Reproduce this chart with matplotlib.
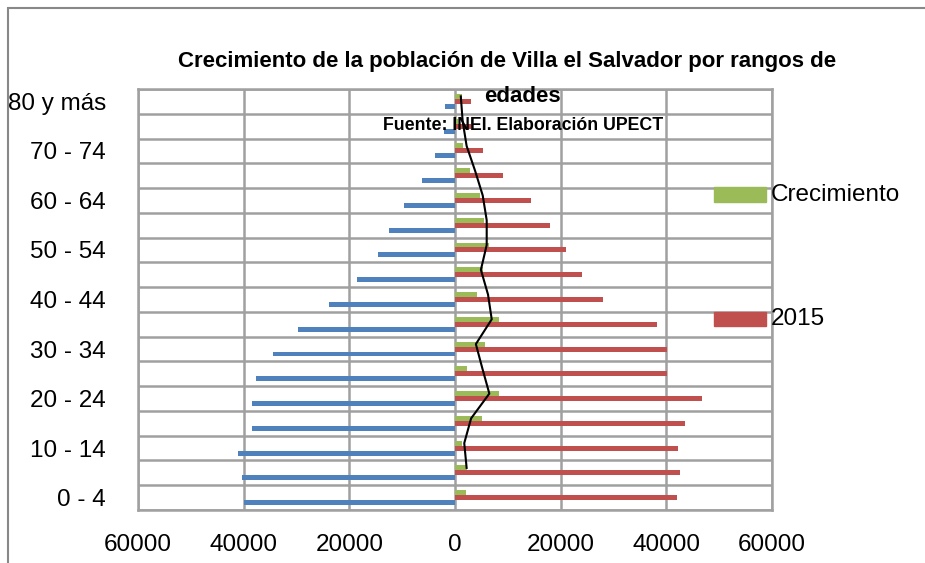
import numpy as np
import matplotlib
matplotlib.use("Agg")
from matplotlib import pyplot as plt
from matplotlib.patches import Rectangle

# age groups, bottom to top
edades = ["0 - 4", "5 - 9", "10 - 14", "15 - 19", "20 - 24", "25 - 29", "30 - 34",
          "35 - 39", "40 - 44", "45 - 49", "50 - 54", "55 - 59", "60 - 64",
          "65 - 69", "70 - 74", "75 - 79", "80 y más"]

# blue series drawn to the left (negative)
pob_izq = [-39900, -40300, -41100, -38500, -38400, -37700, -34500, -29700, -23900,
           -18500, -14500, -12500, -9650, -6300, -3700, -2100, -1800]
pob_2015 = [42100, 42600, 42300, 43500, 46700, 40100, 40200, 38200, 28100,
            24000, 21000, 18000, 14300, 9150, 5350, 3000, 3000]
crecimiento = [2100, 2200, 1250, 5050, 8300, 2200, 5700, 8300, 4200,
               5350, 6450, 5550, 4700, 2850, 1600, 600, 1250]

# black line (rows 5-9 .. 80 y más)
linea_x = [2200, 1750, 3050, 6500, 5200, 3950, 6950, 6250, 4900,
           6000, 6000, 5250, 3800, 2200, 1450, 1100]

azul = "#4F81BD"
rojo = "#C0504D"
verde = "#9BBB59"
gris = "#A0A0A0"
fuente = "Liberation Sans"

fig = plt.figure(figsize=(9.25, 5.63), dpi=100)
fig.patches.append(Rectangle((8/925, -0.1), 1.2, 1.1 - 8/563,
                             transform=fig.transFigure, fill=False,
                             edgecolor="#888888", lw=1.5))
ax = fig.add_axes([138/925, 1-510/563, (772-138)/925, (510-89)/563])

y = np.arange(len(edades))
h = 0.2
ax.barh(y - h, pob_izq, height=h, color=azul, zorder=3)
ax.barh(y, pob_2015, height=h, color=rojo, zorder=3)
ax.barh(y + h, crecimiento, height=h, color=verde, zorder=3)
ax.plot(linea_x, y[1:] + h, color="black", lw=1.5, zorder=4)

ax.set_xlim(-60000, 60000)
ax.set_ylim(-0.5, len(edades) - 0.5)
xt = np.arange(-60000, 60001, 20000)
ax.set_xticks(xt)
ax.set_xticklabels([str(abs(v)) for v in xt], fontsize=17.5, family=fuente)
ax.set_yticks(y[::2])
ax.set_yticklabels(edades[::2], fontsize=17.5, family=fuente)
ax.set_yticks(np.arange(-0.5, len(edades)), minor=True)
ax.tick_params(axis="x", length=0, pad=17)
ax.tick_params(axis="y", length=0, pad=23)
ax.tick_params(axis="y", which="minor", length=0)
ax.grid(axis="x", which="major", color=gris, lw=1.8, zorder=0)
ax.grid(axis="y", which="minor", color=gris, lw=1.8, zorder=0)
for s in ax.spines.values():
    s.set_color(gris)
    s.set_linewidth(1.8)

fig.text(507/925, 1-61/563, "Crecimiento de la población de Villa el Salvador por rangos de",
         ha="center", va="center", fontsize=16, fontweight="bold", family=fuente)
fig.text(522/925, 1-97/563, "edades", ha="center", va="center", fontsize=16,
         fontweight="bold", family=fuente, zorder=10)
fig.text(523/925, 1-125/563, "Fuente: INEI. Elaboración UPECT", ha="center", va="center",
         fontsize=12.8, fontweight="bold", family=fuente, zorder=10)

# legend entries
fig.patches.append(Rectangle((714/925, 1-202/563), 52/925, 15/563, color=verde,
                             transform=fig.transFigure))
fig.text(771/925, 1-195/563, "Crecimiento", va="center", fontsize=17.5, family=fuente)
fig.patches.append(Rectangle((714/925, 1-326/563), 52/925, 14/563, color=rojo,
                             transform=fig.transFigure))
fig.text(771/925, 1-319/563, "2015", va="center", fontsize=17.5, family=fuente)

fig.savefig("out.png", dpi=100)
